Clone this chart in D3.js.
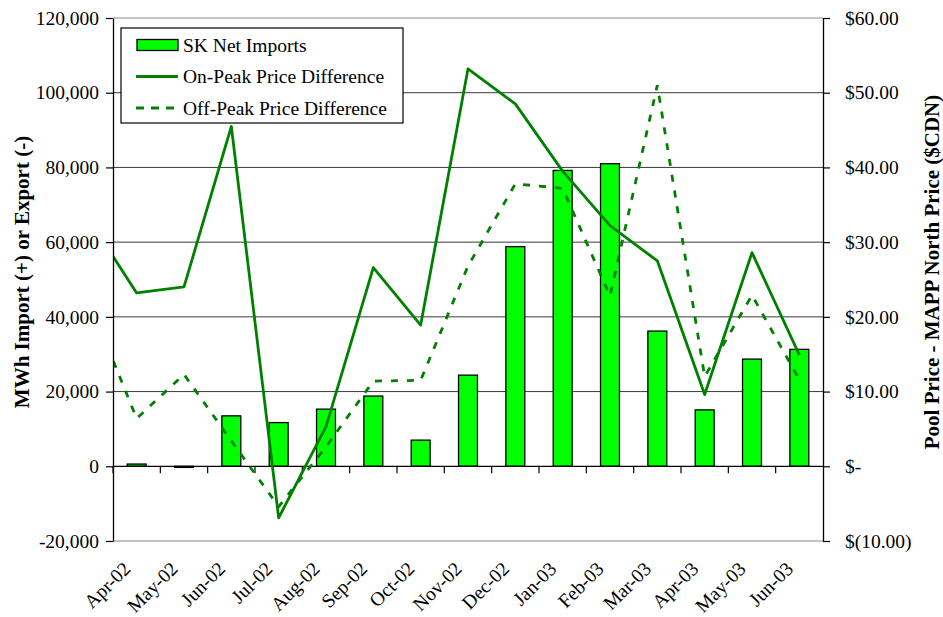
<!DOCTYPE html>
<html><head><meta charset="utf-8">
<script src="https://cdn.jsdelivr.net/npm/d3@7"></script>
<style>
body{margin:0;background:#fff}
svg{display:block}
text{font-family:"Liberation Serif","Times New Roman",serif;fill:#000}
</style>
</head><body>
<svg id="chart" width="943" height="617"></svg>
<script>
// ---- data ----
const months = ["Apr-02","May-02","Jun-02","Jul-02","Aug-02","Sep-02","Oct-02","Nov-02","Dec-02","Jan-03","Feb-03","Mar-03","Apr-03","May-03","Jun-03"];
const netImports = [600, -300, 13500, 11700, 15300, 18800, 7000, 24400, 58800, 79200, 81000, 36200, 15100, 28700, 31300];
const priceMonths = ["Mar-02","Apr-02","May-02","Jun-02","Jul-02","Aug-02","Sep-02","Oct-02","Nov-02","Dec-02","Jan-03","Feb-03","Mar-03","Apr-03","May-03","Jun-03"];
const onPeak  = [33.0, 23.2, 24.0, 45.5, -6.9, 5.3, 26.6, 18.9, 53.2, 48.5, 39.5, 32.2, 27.5, 9.6, 28.6, 14.9];
const offPeak = [22.0, 6.4, 12.3, 3.4, -5.4, 2.6, 11.4, 11.5, 26.8, 37.8, 37.2, 22.8, 51.0, 12.0, 22.9, 11.6];
const leftTicks = [-20000, 0, 20000, 40000, 60000, 80000, 100000, 120000];
const rightTicks = [-10, 0, 10, 20, 30, 40, 50, 60];
const legendLabels = ["SK Net Imports", "On-Peak Price Difference", "Off-Peak Price Difference"];
const leftTitle = "MWh Import (+) or Export (-)";
const rightTitle = "Pool Price - MAPP North Price ($CDN)";

// ---- layout ----
const P = {l:113, r:823, t:18, b:541};
const barColor = "#00FF00", lineColor = "#008000";
const svg = d3.select("#chart");

const x = d3.scaleBand().domain(months).range([P.l, P.r]).paddingInner(0).paddingOuter(0);
const step = x.step();
const xl = d3.scalePoint().domain(priceMonths)
  .range([x(months[0]) + step/2 - step, x(months[months.length-1]) + step/2]);
const yL = d3.scaleLinear().domain([-20000, 120000]).range([P.b, P.t]);
const yR = d3.scaleLinear().domain([-10, 60]).range([P.b, P.t]);

// gridlines
svg.append("g").selectAll("line").data(leftTicks.filter(d => d !== 0)).join("line")
  .attr("x1", P.l).attr("x2", P.r)
  .attr("y1", d => yL(d)).attr("y2", d => yL(d))
  .attr("stroke", d => (d === 120000 || d === -20000) ? "#8a8a8a" : "#3a3a3a")
  .attr("stroke-width", 1);

// bars
const bw = step / 2.5;
svg.append("g").selectAll("rect").data(months).join("rect")
  .attr("x", d => x(d) + step/2 - bw/2)
  .attr("width", bw)
  .attr("y", (d,i) => Math.min(yL(netImports[i]), yL(0)))
  .attr("height", (d,i) => Math.abs(yL(netImports[i]) - yL(0)))
  .attr("fill", barColor).attr("stroke", "#000").attr("stroke-width", 1.3);

// zero line
svg.append("line").attr("x1", P.l).attr("x2", P.r).attr("y1", yL(0)).attr("y2", yL(0))
  .attr("stroke", "#000").attr("stroke-width", 1.2);

// category ticks at band boundaries
svg.append("g").selectAll("line").data(months).join("line")
  .attr("x1", d => x(d)).attr("x2", d => x(d))
  .attr("y1", yL(0)).attr("y2", yL(0) + 7)
  .attr("stroke", "#000").attr("stroke-width", 1.2);

// lines (clipped)
svg.append("clipPath").attr("id", "clip").append("rect")
  .attr("x", P.l).attr("y", P.t).attr("width", P.r - P.l).attr("height", P.b - P.t);
const line = d3.line().x((d,i) => xl(priceMonths[i])).y(d => yR(d));
const lg = svg.append("g").attr("clip-path", "url(#clip)");
lg.append("path").attr("d", line(onPeak)).attr("fill", "none")
  .attr("stroke", lineColor).attr("stroke-width", 2.8).attr("stroke-linejoin", "round");
lg.append("path").attr("d", line(offPeak)).attr("fill", "none")
  .attr("stroke", lineColor).attr("stroke-width", 2.8).attr("stroke-dasharray", "7,9");

// left axis
const fmtL = d => (d < 0 ? "-" : "") + d3.format(",")(Math.abs(d));
const axL = svg.append("g").attr("transform", `translate(${P.l},0)`)
  .call(d3.axisLeft(yL).tickValues(leftTicks).tickFormat(fmtL).tickSize(7).tickSizeOuter(0).tickPadding(7));
axL.select(".domain").attr("stroke", "#000").attr("stroke-width", 1.3);
axL.selectAll(".tick line").attr("stroke", "#000").attr("stroke-width", 1.2);
axL.selectAll("text").attr("font-size", "19.5px").attr("font-family", "Liberation Serif").attr("fill", "#000");

// right axis
const fmtR = d => d === 0 ? "$-" : (d < 0 ? "$(" + Math.abs(d).toFixed(2) + ")" : "$" + d.toFixed(2));
const axR = svg.append("g").attr("transform", `translate(${P.r},0)`)
  .call(d3.axisRight(yR).tickValues(rightTicks).tickFormat(fmtR).tickSize(7).tickSizeOuter(0).tickPadding(15));
axR.select(".domain").attr("stroke", "#000").attr("stroke-width", 1.3);
axR.selectAll(".tick line").attr("stroke", "#000").attr("stroke-width", 1.2);
axR.selectAll("text").attr("font-size", "19.5px").attr("font-family", "Liberation Serif").attr("fill", "#000");

// category labels
svg.append("g").selectAll("text").data(months).join("text")
  .attr("transform", d => `translate(${x(d) + step/2 - 5},570) rotate(-45)`)
  .attr("text-anchor", "end").attr("font-size", "19.5px").text(d => d);

// axis titles
svg.append("text").attr("transform", `translate(29,272) rotate(-90)`)
  .attr("text-anchor", "middle").attr("font-size", "21px").attr("font-weight", "bold").text(leftTitle);
svg.append("text").attr("transform", `translate(939,272) rotate(-90)`)
  .attr("text-anchor", "middle").attr("font-size", "21px").attr("font-weight", "bold").text(rightTitle);

// legend
const L = {x:121, y:28, w:282, h:95};
const leg = svg.append("g");
leg.append("rect").attr("x", L.x).attr("y", L.y).attr("width", L.w).attr("height", L.h)
  .attr("fill", "#fff").attr("stroke", "#000").attr("stroke-width", 1.2);
const rowY = [45, 76.5, 108];
leg.append("rect").attr("x", 137).attr("y", rowY[0] - 5.5).attr("width", 41).attr("height", 11)
  .attr("fill", barColor).attr("stroke", "#000").attr("stroke-width", 1.3);
leg.append("line").attr("x1", 136).attr("x2", 178).attr("y1", rowY[1]).attr("y2", rowY[1])
  .attr("stroke", lineColor).attr("stroke-width", 2.8);
leg.append("line").attr("x1", 136).attr("x2", 178).attr("y1", rowY[2]).attr("y2", rowY[2])
  .attr("stroke", lineColor).attr("stroke-width", 2.8).attr("stroke-dasharray", "8,7");
leg.selectAll("text.lab").data(legendLabels).join("text").attr("class", "lab")
  .attr("x", 183).attr("y", (d,i) => rowY[i] + 6.5).attr("font-size", "19.5px").text(d => d);
</script>
</body></html>
